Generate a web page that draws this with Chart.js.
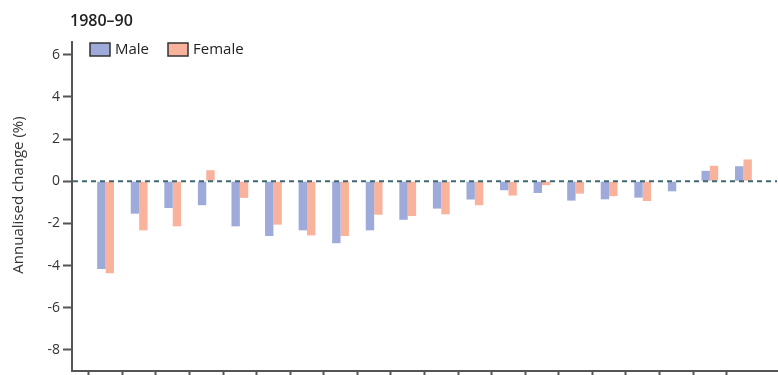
<!DOCTYPE html>
<html>
<head>
<meta charset="utf-8">
<script src="https://cdn.jsdelivr.net/npm/chart.js@4"></script>
<style>
  html, body { margin: 0; padding: 0; background: #fff; }
  #wrap { width: 778px; height: 375px; position: relative; }
</style>
</head>
<body>
<div id="wrap"><canvas id="chart"></canvas></div>
<script>
// datos de la figura 1980-90
const chartTitle = '1980–90';
const yTitle = 'Annualised change (%)';
const ageGroups = ['Early neonatal', 'Late neonatal', 'Post neonatal', '1–4', '5–9', '10–14', '15–19', '20–24',
  '25–29', '30–34', '35–39', '40–44', '45–49', '50–54', '55–59', '60–64', '65–69', '70–74', '75–79', '80+'];
const maleValues = [-4.16, -1.54, -1.27, -1.14, -2.14, -2.6, -2.33, -2.94, -2.33, -1.83,
  -1.3, -0.87, -0.43, -0.56, -0.92, -0.86, -0.78, -0.48, 0.49, 0.71];
const femaleValues = [-4.37, -2.33, -2.14, 0.52, -0.79, -2.06, -2.57, -2.6, -1.59, -1.65,
  -1.57, -1.14, -0.68, -0.19, -0.59, -0.71, -0.94, 0, 0.73, 1.03];
const yTicks = [-8, -6, -4, -2, 0, 2, 4, 6];

const MALE = '#9eabda';
const FEMALE = '#f9b29b';
const AXIS = '#555555';

// una categoría vacía a cada lado para dejar el hueco del eje
const labels = [''].concat(ageGroups, ['']);
const pad = arr => [null].concat(arr, [null]);

// linea de cero, titulos y leyenda
const extras = {
  id: 'extras',
  afterDatasetsDraw(chart) {
    const { ctx, chartArea, scales } = chart;
    const y0 = scales.y.getPixelForValue(0);
    ctx.save();
    ctx.strokeStyle = '#3e6872';
    ctx.lineWidth = 2;
    ctx.setLineDash([5, 4]);
    ctx.beginPath();
    ctx.moveTo(chartArea.left + 1, y0);
    ctx.lineTo(chartArea.right, y0);
    ctx.stroke();
    ctx.restore();
  },
  afterDraw(chart) {
    const ctx = chart.ctx;
    ctx.save();
    ctx.fillStyle = '#222';
    ctx.textBaseline = 'alphabetic';
    ctx.font = '600 16px "Open Sans"';
    ctx.fillText(chartTitle, 70, 26);

    // titulo del eje y, algo por encima del centro como en el original
    ctx.save();
    ctx.translate(19, 195);
    ctx.rotate(-Math.PI / 2);
    ctx.fillStyle = '#333';
    ctx.font = '15px "Open Sans"';
    ctx.textAlign = 'center';
    ctx.textBaseline = 'middle';
    ctx.fillText(yTitle, 0, 0);
    ctx.restore();

    const items = [['Male', MALE, 90], ['Female', FEMALE, 168]];
    ctx.font = '15px "Open Sans"';
    items.forEach(([txt, col, x]) => {
      ctx.fillStyle = col;
      ctx.fillRect(x, 43, 20, 13);
      ctx.strokeStyle = '#333';
      ctx.lineWidth = 1.5;
      ctx.strokeRect(x, 43, 20, 13);
      ctx.fillStyle = '#222';
      ctx.textBaseline = 'middle';
      ctx.fillText(txt, x + 25, 50);
    });
    ctx.restore();
  }
};

const ctx = document.getElementById('chart').getContext('2d');
new Chart(ctx, {
  type: 'bar',
  data: {
    labels: labels,
    datasets: [
      { label: 'Male', data: pad(maleValues), backgroundColor: MALE, borderWidth: 0 },
      { label: 'Female', data: pad(femaleValues), backgroundColor: FEMALE, borderWidth: 0 }
    ]
  },
  options: {
    responsive: true,
    maintainAspectRatio: false,
    animation: false,
    devicePixelRatio: 1,
    layout: { padding: { top: 42, right: 1, bottom: 0, left: 0 } },
    datasets: { bar: { categoryPercentage: 0.5, barPercentage: 1.0 } },
    plugins: {
      legend: { display: false },
      tooltip: { enabled: false }
    },
    scales: {
      x: {
        type: 'category',
        offset: false,
        grid: {
          drawOnChartArea: false,
          drawTicks: true,
          tickLength: 5,
          tickWidth: 2,
          tickColor: c => (c.index === 0 || c.index === labels.length - 1) ? 'rgba(0,0,0,0)' : AXIS
        },
        border: { display: true, color: AXIS, width: 2 },
        ticks: { display: false, autoSkip: false },
        afterFit: s => { s.height = 4; s.paddingLeft = 0; s.paddingRight = 0; }
      },
      y: {
        min: -9,
        max: 6.6,
        afterBuildTicks: s => { s.ticks = yTicks.map(v => ({ value: v })); },
        grid: { drawOnChartArea: false, drawTicks: true, tickLength: 9, tickWidth: 2, tickColor: AXIS },
        border: { display: true, color: AXIS, width: 2 },
        ticks: {
          color: '#333',
          font: { family: 'Open Sans', size: 14 },
          padding: 3,
          callback: v => v
        },
        title: { display: false },
        afterFit: s => { s.width = 72; s.paddingTop = 0; s.paddingBottom = 0; }
      }
    }
  },
  plugins: [extras]
});
</script>
</body>
</html>
